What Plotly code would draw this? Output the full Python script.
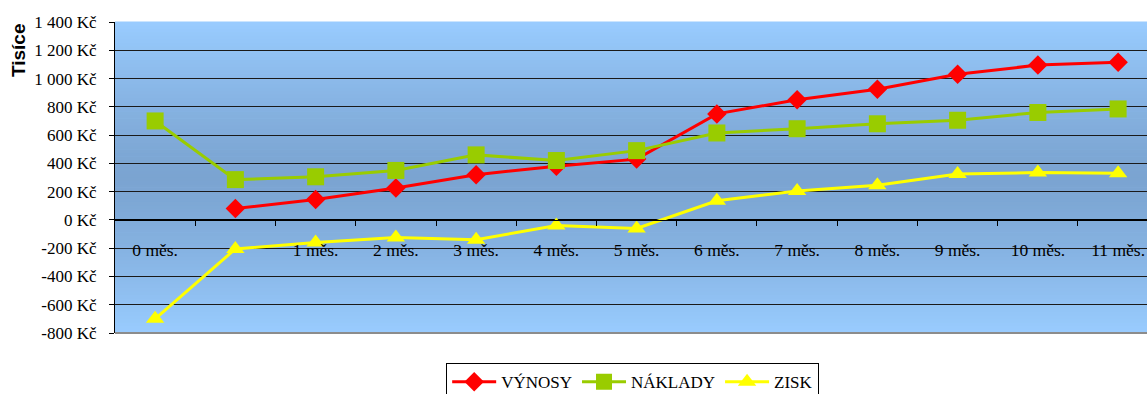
import plotly.graph_objects as go

# Months along the horizontal axis (the second slot carries no label)
categories = ["0 měs.", "", "1 měs.", "2 měs.", "3 měs.", "4 měs.", "5 měs.",
              "6 měs.", "7 měs.", "8 měs.", "9 měs.", "10 měs.", "11 měs."]

# Values in thousands of Kč
vynosy = [None, 80, 145, 225, 320, 380, 430, 750, 850, 925, 1030, 1095, 1115]
naklady = [700, 285, 305, 350, 460, 420, 490, 615, 645, 680, 705, 760, 785]
zisk = [-700, -205, -160, -125, -140, -40, -60, 135, 205, 245, 325, 335, 330]

y_ticks = [-800, -600, -400, -200, 0, 200, 400, 600, 800, 1000, 1200, 1400]
y_tick_text = ["-800 Kč", "-600 Kč", "-400 Kč", "-200 Kč", "0 Kč", "200 Kč",
               "400 Kč", "600 Kč", "800 Kč", "1 000 Kč", "1 200 Kč", "1 400 Kč"]

x = list(range(len(categories)))
label_idx = [i for i, c in enumerate(categories) if c]

SERIF = "Liberation Serif"

fig = go.Figure()
fig.add_trace(go.Scatter(
    x=x, y=vynosy, name="VÝNOSY", mode="lines+markers",
    line=dict(color="#FF0000", width=3),
    marker=dict(symbol="diamond", size=15, color="#FF0000"),
))
fig.add_trace(go.Scatter(
    x=x, y=naklady, name="NÁKLADY", mode="lines+markers",
    line=dict(color="#99CC00", width=3),
    marker=dict(symbol="square", size=17, color="#99CC00"),
))
fig.add_trace(go.Scatter(
    x=x, y=zisk, name="ZISK", mode="lines+markers",
    line=dict(color="#FFFF00", width=3),
    marker=dict(symbol="triangle-up", size=16, color="#FFFF00"),
))

# Vertical gradient of the plot area: light at the edges, darker in the middle
light = (153, 204, 255)
dark = (123, 164, 209)
bands = 90
shapes = []
for i in range(bands):
    y0 = i / bands
    y1 = (i + 1) / bands
    t = abs((y0 + y1) / 2 - 0.5) * 2
    t = t ** 1.3
    c = tuple(round(dark[k] + (light[k] - dark[k]) * t) for k in range(3))
    shapes.append(dict(
        type="rect", xref="paper", yref="paper", x0=0, x1=1, y0=y0, y1=y1 + 0.002,
        fillcolor="rgb(%d,%d,%d)" % c, line=dict(width=0), layer="below",
    ))
# Grey frame line along the bottom of the plot area
shapes.append(dict(type="line", xref="paper", yref="paper", x0=0, x1=1, y0=0, y1=0,
                   line=dict(color="#8C8C8C", width=2), layer="below"))

y_min, y_max = -800, 1400
zero_pos = (0 - y_min) / (y_max - y_min)

fig.update_layout(
    width=1147, height=394,
    margin=dict(l=115, r=0, t=22, b=61, autoexpand=False),
    paper_bgcolor="white",
    plot_bgcolor="#99CCFF",
    shapes=shapes,
    showlegend=True,
    legend=dict(
        orientation="h", x=0.3209, xanchor="left", y=-0.097, yanchor="top",
        font=dict(family=SERIF, size=17, color="black"),
        bordercolor="black", borderwidth=1, bgcolor="white",
        itemwidth=44, tracegroupgap=0,
    ),
    xaxis=dict(
        range=[-0.5, 12.36],
        anchor="free", position=zero_pos,
        tickmode="array", tickvals=label_idx,
        ticktext=[categories[i] for i in label_idx],
        ticks="", showgrid=False, zeroline=False,
        showline=True, linecolor="black", linewidth=1,
        tickfont=dict(family=SERIF, size=17.5, color="black"),
        ticklabelstandoff=14,
        minor=dict(tickmode="array", tickvals=[i + 0.5 for i in range(12)],
                   ticks="outside", ticklen=5, tickcolor="black", tickwidth=1,
                   showgrid=False),
    ),
    yaxis=dict(
        range=[y_min, y_max],
        tickmode="array", tickvals=y_ticks, ticktext=y_tick_text,
        ticks="outside", ticklen=5, tickcolor="black",
        showline=True, linecolor="black", linewidth=1,
        showgrid=True, gridcolor="#1a1a1a", gridwidth=1,
        zeroline=True, zerolinecolor="black", zerolinewidth=1,
        tickfont=dict(family=SERIF, size=17, color="black"),
        ticklabelstandoff=9,
    ),
    annotations=[dict(
        text="<b>Tisíce</b>", xref="paper", yref="paper",
        x=-0.093, y=0.91, xanchor="center", yanchor="middle",
        textangle=-90, showarrow=False,
        font=dict(family="Liberation Sans", size=19, color="black"),
    )],
)

fig.write_html("out.html")
